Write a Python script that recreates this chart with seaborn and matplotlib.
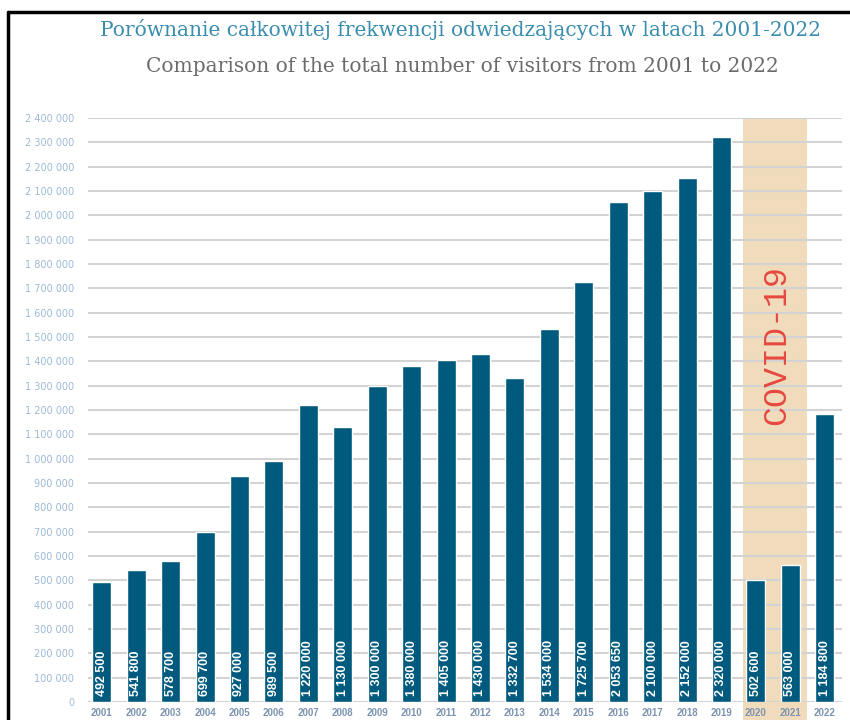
import matplotlib
matplotlib.use("Agg")
import matplotlib.pyplot as plt
from matplotlib.lines import Line2D
from matplotlib.ticker import FuncFormatter, MultipleLocator
import pandas as pd
import seaborn as sns

# --- dane ---
years = [str(y) for y in range(2001, 2023)]
visitors = [492500, 541800, 578700, 699700, 927000, 989500, 1220000, 1130000,
            1300000, 1380000, 1405000, 1430000, 1332700, 1534000, 1725700,
            2053650, 2100000, 2152000, 2320000, 502600, 563000, 1184800]
bar_labels = ["492 500", "541 800", "578 700", "699 700", "927 000", "989 500",
              "1 220 000", "1 130 000", "1 300 000", "1 380 000", "1 405 000",
              "1 430 000", "1 332 700", "1 534 000", "1 725 700", "2 053 650",
              "2 100 000", "2 152 000", "2 320 000", "502 600", "563 000",
              "1 184 800"]
covid_years = ["2020", "2021"]

title_pl = "Porównanie całkowitej frekwencji odwiedzających w latach 2001-2022"
title_en = "Comparison of the total number of visitors from 2001 to 2022"

df = pd.DataFrame({"Rok": years, "Odwiedzający": visitors})

sns.set_style("white")
plt.rcParams["font.family"] = ["DejaVu Sans"]

fig = plt.figure(figsize=(8.5, 7.2), dpi=100)
ax = fig.add_axes([88 / 850, 1 - 702 / 720, 754 / 850, (702 - 118) / 720])

# pas COVID-19 (tło)
i0 = years.index(covid_years[0])
i1 = years.index(covid_years[-1])
ax.axvspan(i0 - 0.38, i1 + 0.48, ymin=-0.04, ymax=1.0, color="#F0DCBC",
           zorder=0, clip_on=False, lw=0)

sns.barplot(data=df, x="Rok", y="Odwiedzający", color="#005A7D", width=0.55,
            saturation=1, ax=ax, zorder=3)

for i, lab in enumerate(bar_labels):
    ax.text(i, 25000, lab, rotation=90, ha="center", va="bottom", color="white",
            fontsize=9, fontweight="bold", family="Liberation Sans", zorder=4)

ax.text((i0 + i1) / 2 + 0.1, 1467000, "COVID-19", rotation=90, ha="center",
        va="center", color="#E5483F", fontsize=24, family="Liberation Mono",
        zorder=4)

ax.set_xlim(-0.4, len(years) - 0.5)
ax.set_ylim(0, 2400000)
ax.yaxis.set_major_locator(MultipleLocator(100000))
ax.yaxis.set_major_formatter(FuncFormatter(lambda v, p: f"{int(v):,}".replace(",", " ")))
ax.grid(axis="y", color="#D3D3D3", lw=1.5, zorder=1)
ax.set_axisbelow(True)
for s in ax.spines.values():
    s.set_visible(False)
ax.set_xlabel("")
ax.set_ylabel("")
ax.tick_params(axis="y", length=0, pad=10, labelsize=7, labelcolor="#9DB9D6")
ax.tick_params(axis="x", length=0, pad=4)
for t in ax.get_xticklabels():
    t.set_fontsize(7)
    t.set_fontweight("bold")
    t.set_color("#7C94B0")
    t.set_family("Liberation Sans")

fig.text(461 / 850, 1 - 30 / 720, title_pl, ha="center", va="center",
         color="#3A8DAE", fontsize=14.5, family="DejaVu Serif")
fig.text(462 / 850, 1 - 67 / 720, title_en, ha="center", va="center",
         color="#6B6B6B", fontsize=14.5, family="DejaVu Serif")

# ramka (lewa i górna krawędź)
fig.add_artist(Line2D([8 / 850, 8 / 850], [0, 1 - 12 / 720], color="black",
                      lw=2.5, transform=fig.transFigure))
fig.add_artist(Line2D([8 / 850, 1], [1 - 12 / 720, 1 - 12 / 720], color="black",
                      lw=2.5, transform=fig.transFigure))

fig.savefig("out.png", dpi=100)
